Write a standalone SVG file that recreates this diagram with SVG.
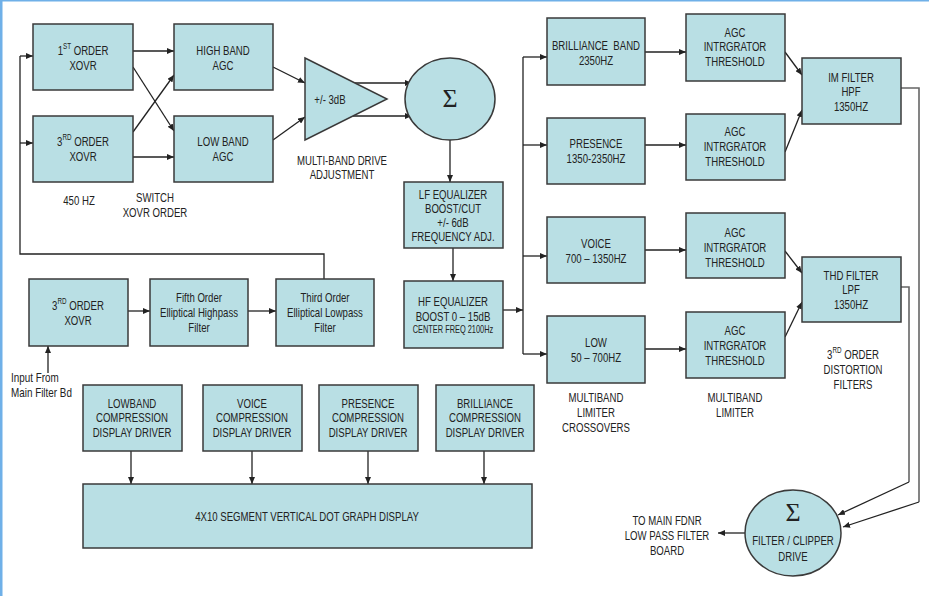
<svg xmlns="http://www.w3.org/2000/svg" width="929" height="596" viewBox="0 0 929 596">
<defs>
<marker id="ah" markerWidth="8" markerHeight="6" refX="7" refY="3" orient="auto" markerUnits="userSpaceOnUse">
<path d="M0,0 L7,3 L0,6 z" fill="#222"/>
</marker>
</defs>
<style>
.b{fill:#b9dfe4;stroke:#3a3a3a;stroke-width:1.5}
text{font-family:"Liberation Sans",Arial,sans-serif;font-size:13px;fill:#222;text-anchor:middle;dominant-baseline:central}
.s{font-size:8.5px}
.sm{font-size:10px}
.sig{font-family:"Liberation Serif","Times New Roman",serif;font-size:26px}
.l{text-anchor:start}
.c line,.c polyline,.c path{stroke:#222;stroke-width:1.3;fill:none}
.c .a{marker-end:url(#ah)}
.c .g{stroke:#666;stroke-width:1.6}
</style>
<rect x="0" y="0" width="929" height="596" fill="#fff"/>
<rect x="0" y="0" width="2.5" height="596" fill="#6fb0e8"/>
<rect x="0" y="0" width="929" height="1.5" fill="#6fb0e8"/>

<g class="c" id="connectors">
<polyline points="324,279 324,254 20,254 20,56"/>
<line class="a" x1="20" y1="56" x2="33" y2="56"/>
<line class="a" x1="20" y1="143" x2="33" y2="143"/>
<line class="a" x1="133" y1="51" x2="174" y2="51"/>
<line class="a" x1="133" y1="157" x2="174" y2="157"/>
<line class="a" x1="133" y1="67" x2="174" y2="131"/>
<line class="a" x1="133" y1="132" x2="174" y2="75"/>
<line class="a" x1="273" y1="67" x2="305" y2="83"/>
<line class="a" x1="273" y1="140" x2="305" y2="117"/>
<line class="a" x1="355" y1="83" x2="412" y2="83"/>
<line class="a" x1="353" y1="116" x2="412" y2="116"/>
<line class="a" x1="450" y1="140" x2="450" y2="182"/>
<line class="a" x1="453" y1="248" x2="453" y2="281"/>
<line class="a" x1="503" y1="310" x2="523" y2="310"/>
<line x1="523" y1="57" x2="523" y2="354"/>
<line class="a" x1="523" y1="57" x2="547" y2="57"/>
<line class="a" x1="523" y1="145" x2="547" y2="145"/>
<line class="a" x1="523" y1="256" x2="547" y2="256"/>
<line class="a" x1="523" y1="354" x2="547" y2="354"/>
<line class="a" x1="645" y1="52" x2="686" y2="52"/>
<line class="a" x1="645" y1="145" x2="686" y2="145"/>
<line class="a" x1="645" y1="250" x2="686" y2="250"/>
<line class="a" x1="645" y1="349" x2="686" y2="349"/>
<line class="a" x1="785" y1="52" x2="802" y2="75"/>
<line class="a" x1="785" y1="152" x2="802" y2="110"/>
<line class="a" x1="785" y1="251" x2="802" y2="273"/>
<line class="a" x1="785" y1="337" x2="802" y2="302"/>
<polyline class="g" points="901,88 919,88 919,502"/>
<line class="a" x1="919" y1="502" x2="843" y2="527"/>
<polyline class="g" points="901,287 909,287 909,482"/>
<line class="a" x1="909" y1="482" x2="838" y2="515"/>
<line class="a" x1="745" y1="533" x2="718" y2="533"/>
<line class="a" x1="48" y1="373" x2="48" y2="346"/>
<line class="a" x1="128" y1="311" x2="150" y2="311"/>
<line class="a" x1="248" y1="311" x2="276" y2="311"/>
<line class="a" x1="131" y1="451" x2="131" y2="484"/>
<line class="a" x1="252" y1="451" x2="252" y2="484"/>
<line class="a" x1="368" y1="451" x2="368" y2="484"/>
<line class="a" x1="484" y1="451" x2="484" y2="484"/>
</g>

<g id="xovr1"><rect class="b" x="33" y="24" width="100" height="66"/>
<text transform="matrix(.74 0 0 1 83 50)">1<tspan class="s" dy="-4">ST</tspan><tspan dy="4"> ORDER</tspan></text><text transform="matrix(.74 0 0 1 83 65)">XOVR</text></g>
<g id="xovr3"><rect class="b" x="33" y="116" width="100" height="66"/>
<text transform="matrix(.74 0 0 1 83 141)">3<tspan class="s" dy="-4">RD</tspan><tspan dy="4"> ORDER</tspan></text><text transform="matrix(.74 0 0 1 83 156)">XOVR</text></g>
<g id="highagc"><rect class="b" x="174" y="24" width="99" height="66"/>
<text transform="matrix(.74 0 0 1 223 50)">HIGH BAND</text><text transform="matrix(.74 0 0 1 223 65)">AGC</text></g>
<g id="lowagc"><rect class="b" x="174" y="116" width="99" height="66"/>
<text transform="matrix(.74 0 0 1 223 141)">LOW BAND</text><text transform="matrix(.74 0 0 1 223 156)">AGC</text></g>
<text transform="matrix(.74 0 0 1 79 200)">450 HZ</text>
<text transform="matrix(.74 0 0 1 155 197)">SWITCH</text><text transform="matrix(.74 0 0 1 155 212)">XOVR ORDER</text>

<g id="amp"><polygon class="b" points="305,58 387,99 305,140"/>
<text transform="matrix(.74 0 0 1 330 99)">+/- 3dB</text></g>
<text transform="matrix(.74 0 0 1 342 160)">MULTI-BAND DRIVE</text><text transform="matrix(.74 0 0 1 342 174)">ADJUSTMENT</text>

<g id="sum1"><ellipse class="b" cx="450" cy="99" rx="45" ry="41"/>
<text class="sig" x="450" y="98">Σ</text></g>

<g id="lfeq"><rect class="b" x="404" y="182" width="99" height="66"/>
<text transform="matrix(.74 0 0 1 453 194)">LF EQUALIZER</text><text transform="matrix(.74 0 0 1 453 208)">BOOST/CUT</text><text transform="matrix(.74 0 0 1 453 222)">+/- 6dB</text><text transform="matrix(.74 0 0 1 453 236)">FREQUENCY ADJ.</text></g>
<g id="hfeq"><rect class="b" x="404" y="281" width="99" height="67"/>
<text transform="matrix(.74 0 0 1 453 301)">HF EQUALIZER</text><text transform="matrix(.74 0 0 1 453 316)">BOOST 0 – 15dB</text><text class="sm" transform="matrix(.74 0 0 1 453 330)">CENTER FREQ 2100Hz</text></g>

<g id="brill"><rect class="b" x="547" y="18" width="98" height="67"/>
<text transform="matrix(.74 0 0 1 596 45)" xml:space="preserve">BRILLIANCE  BAND</text><text transform="matrix(.74 0 0 1 596 60)">2350HZ</text></g>
<g id="pres"><rect class="b" x="547" y="118" width="98" height="66"/>
<text transform="matrix(.74 0 0 1 596 143)">PRESENCE</text><text transform="matrix(.74 0 0 1 596 158)">1350-2350HZ</text></g>
<g id="voice"><rect class="b" x="547" y="217" width="98" height="66"/>
<text transform="matrix(.74 0 0 1 596 243)">VOICE</text><text transform="matrix(.74 0 0 1 596 258)">700 – 1350HZ</text></g>
<g id="low"><rect class="b" x="547" y="316" width="98" height="67"/>
<text transform="matrix(.74 0 0 1 596 342)">LOW</text><text transform="matrix(.74 0 0 1 596 357)">50 – 700HZ</text></g>

<g id="agc1"><rect class="b" x="686" y="14" width="99" height="67"/>
<text transform="matrix(.74 0 0 1 735 32)">AGC</text><text transform="matrix(.74 0 0 1 735 46)">INTRGRATOR</text><text transform="matrix(.74 0 0 1 735 61)">THRESHOLD</text></g>
<g id="agc2"><rect class="b" x="686" y="114" width="99" height="66"/>
<text transform="matrix(.74 0 0 1 735 131)">AGC</text><text transform="matrix(.74 0 0 1 735 146)">INTRGRATOR</text><text transform="matrix(.74 0 0 1 735 161)">THRESHOLD</text></g>
<g id="agc3"><rect class="b" x="686" y="213" width="99" height="65"/>
<text transform="matrix(.74 0 0 1 735 232)">AGC</text><text transform="matrix(.74 0 0 1 735 247)">INTRGRATOR</text><text transform="matrix(.74 0 0 1 735 262)">THRESHOLD</text></g>
<g id="agc4"><rect class="b" x="686" y="312" width="99" height="66"/>
<text transform="matrix(.74 0 0 1 735 330)">AGC</text><text transform="matrix(.74 0 0 1 735 345)">INTRGRATOR</text><text transform="matrix(.74 0 0 1 735 360)">THRESHOLD</text></g>

<g id="imf"><rect class="b" x="802" y="58" width="99" height="66"/>
<text transform="matrix(.74 0 0 1 851 77)">IM FILTER</text><text transform="matrix(.74 0 0 1 851 91)">HPF</text><text transform="matrix(.74 0 0 1 851 106)">1350HZ</text></g>
<g id="thd"><rect class="b" x="802" y="257" width="99" height="65"/>
<text transform="matrix(.74 0 0 1 851 275)">THD FILTER</text><text transform="matrix(.74 0 0 1 851 289)">LPF</text><text transform="matrix(.74 0 0 1 851 304)">1350HZ</text></g>

<text transform="matrix(.74 0 0 1 596 397)">MULTIBAND</text><text transform="matrix(.74 0 0 1 596 412)">LIMITER</text><text transform="matrix(.74 0 0 1 596 427)">CROSSOVERS</text>
<text transform="matrix(.74 0 0 1 735 397)">MULTIBAND</text><text transform="matrix(.74 0 0 1 735 412)">LIMITER</text>
<text transform="matrix(.74 0 0 1 853 354)">3<tspan class="s" dy="-4">RD</tspan><tspan dy="4"> ORDER</tspan></text><text transform="matrix(.74 0 0 1 853 369)">DISTORTION</text><text transform="matrix(.74 0 0 1 853 384)">FILTERS</text>

<g id="xovr3b"><rect class="b" x="29" y="279" width="99" height="67"/>
<text transform="matrix(.74 0 0 1 78 305)">3<tspan class="s" dy="-4">RD</tspan><tspan dy="4"> ORDER</tspan></text><text transform="matrix(.74 0 0 1 78 320)">XOVR</text></g>
<g id="fifth"><rect class="b" x="150" y="279" width="98" height="67"/>
<text transform="matrix(.74 0 0 1 199 297)">Fifth Order</text><text transform="matrix(.74 0 0 1 199 312)">Elliptical Highpass</text><text transform="matrix(.74 0 0 1 199 327)">Filter</text></g>
<g id="third"><rect class="b" x="276" y="279" width="98" height="67"/>
<text transform="matrix(.74 0 0 1 325 297)">Third Order</text><text transform="matrix(.74 0 0 1 325 312)">Elliptical Lowpass</text><text transform="matrix(.74 0 0 1 325 327)">Filter</text></g>
<text class="l" transform="matrix(.76 0 0 1 11 377)">Input From</text><text class="l" transform="matrix(.76 0 0 1 11 392)">Main Filter Bd</text>

<g id="drvlow"><rect class="b" x="83" y="385" width="99" height="66"/>
<text transform="matrix(.74 0 0 1 132 403)">LOWBAND</text><text transform="matrix(.74 0 0 1 132 417)">COMPRESSION</text><text transform="matrix(.74 0 0 1 132 432)">DISPLAY DRIVER</text></g>
<g id="drvvoice"><rect class="b" x="203" y="385" width="99" height="66"/>
<text transform="matrix(.74 0 0 1 252 403)">VOICE</text><text transform="matrix(.74 0 0 1 252 417)">COMPRESSION</text><text transform="matrix(.74 0 0 1 252 432)">DISPLAY DRIVER</text></g>
<g id="drvpres"><rect class="b" x="319" y="385" width="99" height="66"/>
<text transform="matrix(.74 0 0 1 368 403)">PRESENCE</text><text transform="matrix(.74 0 0 1 368 417)">COMPRESSION</text><text transform="matrix(.74 0 0 1 368 432)">DISPLAY DRIVER</text></g>
<g id="drvbrill"><rect class="b" x="436" y="385" width="98" height="66"/>
<text transform="matrix(.74 0 0 1 485 403)">BRILLIANCE</text><text transform="matrix(.74 0 0 1 485 417)">COMPRESSION</text><text transform="matrix(.74 0 0 1 485 432)">DISPLAY DRIVER</text></g>
<g id="display"><rect class="b" x="83" y="484" width="449" height="64"/>
<text transform="matrix(.74 0 0 1 307 516)">4X10 SEGMENT VERTICAL DOT GRAPH DISPLAY</text></g>

<g id="sum2"><ellipse class="b" cx="793" cy="533" rx="48" ry="43"/>
<text class="sig" x="793" y="512">Σ</text><text transform="matrix(.74 0 0 1 793 540)">FILTER / CLIPPER</text><text transform="matrix(.74 0 0 1 793 556)">DRIVE</text></g>
<text transform="matrix(.74 0 0 1 667 520)">TO MAIN FDNR</text><text transform="matrix(.74 0 0 1 667 535)">LOW PASS FILTER</text><text transform="matrix(.74 0 0 1 667 550)">BOARD</text>
</svg>
